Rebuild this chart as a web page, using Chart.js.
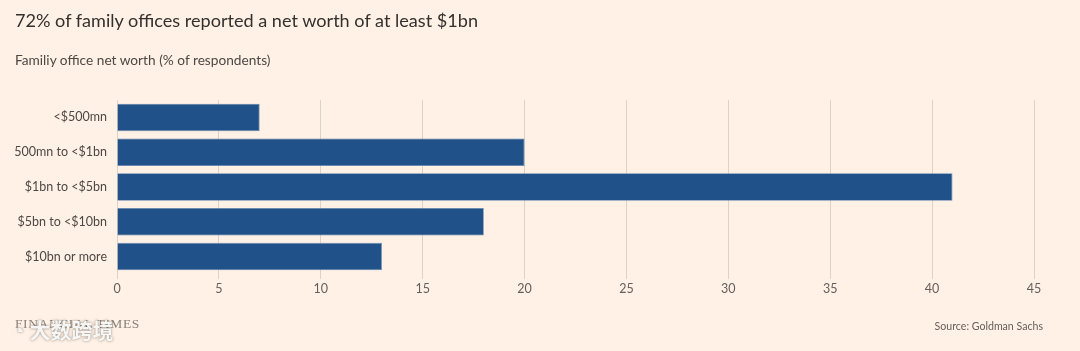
<!DOCTYPE html>
<html>
<head>
<meta charset="utf-8">
<script src="https://cdn.jsdelivr.net/npm/chart.js@4/dist/chart.umd.min.js"></script>
<style>
  html, body { margin: 0; padding: 0; background: #fff1e5; }
  #wrap { position: relative; width: 1080px; height: 351px; overflow: hidden; font-family: Lato, "Open Sans", sans-serif; }
  #chart { position: absolute; left: 0; top: 0; }
  .title { position: absolute; left: 15px; top: 9px; font-size: 18.1px; color: #33302e; }
  .sub { position: absolute; left: 15px; top: 51px; font-size: 13.7px; color: #4d4845; }
  .source { position: absolute; right: 37px; top: 320px; font-size: 10.6px; color: #66605c; }
  .ft { position: absolute; left: 15px; top: 316px; font-family: "Liberation Serif", serif; font-size: 13.5px; color: #8a827b; letter-spacing: 0.6px; }
  .wm { position: absolute; left: 12px; top: 316px; font-family: "Noto Sans CJK SC", sans-serif; font-size: 21px; font-weight: bold; color: rgba(255,255,255,0.92); text-shadow: 0 0 3px rgba(90,80,70,0.55), 0 0 1px rgba(90,80,70,0.4); line-height: 26px; }
</style>
</head>
<body>
<div id="wrap">
  <canvas id="chart" width="1080" height="351"></canvas>
  <div class="title">72% of family offices reported a net worth of at least $1bn</div>
  <div class="sub">Familiy office net worth (% of respondents)</div>
  <div class="ft">FINANCIAL TIMES</div>
  <div class="wm">◔ 大数跨境</div>
  <div class="source">Source: Goldman Sachs</div>
</div>
<script>
// Catégories et valeurs
const categories = ['<$500mn', '500mn to <$1bn', '$1bn to <$5bn', '$5bn to <$10bn', '$10bn or more'];
const shares = [7, 20, 41, 18, 13];
const xTicks = [0, 5, 10, 15, 20, 25, 30, 35, 40, 45];

const ctx = document.getElementById('chart').getContext('2d');
const chart = new Chart(ctx, {
    type: 'bar',
    data: {
        labels: categories,
        datasets: [{
            data: shares,
            backgroundColor: '#215189',
            borderColor: '#5f83ad',
            borderWidth: 0.8,
            categoryPercentage: 1,
            barPercentage: 0.79
        }]
    },
    options: {
        indexAxis: 'y',
        responsive: false,
        animation: false,
        layout: { padding: { top: 100, right: 46, bottom: 0, left: 0 } },
        plugins: {
            legend: { display: false },
            tooltip: { enabled: false }
        },
        scales: {
            x: {
                min: 0,
                max: 45,
                afterBuildTicks: (scale) => { scale.ticks = xTicks.map(v => ({ value: v })); },
                afterFit: (scale) => { scale.height = 77; },
                grid: { color: '#dcd2c8', lineWidth: 1, tickLength: 5, drawTicks: true },
                border: { display: false },
                ticks: { color: '#66605c', font: { family: 'Lato', size: 12.5 }, padding: 2 }
            },
            y: {
                afterFit: (scale) => { scale.width = 117; },
                grid: { display: false, drawTicks: false },
                border: { display: false },
                ticks: { color: '#4d4845', font: { family: 'Lato', size: 12.5 }, padding: 10 }
            }
        }
    }
});
</script>
</body>
</html>
